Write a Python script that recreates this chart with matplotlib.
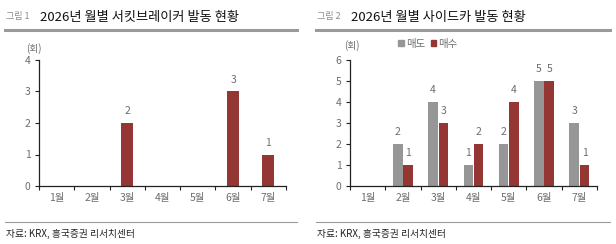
import numpy as np
import matplotlib
matplotlib.use('Agg')
import matplotlib.pyplot as plt
from matplotlib.lines import Line2D
from matplotlib.patches import Patch

# 한글 폰트 설정
plt.rcParams['font.family'] = ['Noto Sans CJK KR', 'DejaVu Sans']

# 데이터
months = ['1월', '2월', '3월', '4월', '5월', '6월', '7월']
circuit_breaker = [0, 0, 2, 0, 0, 3, 1]
sidecar_sell = [0, 2, 4, 1, 2, 5, 3]
sidecar_buy = [0, 1, 3, 2, 4, 5, 1]

RED = '#943634'
GRAY = '#969696'
TXT = '#6d6d6d'

W, H = 616, 244
fig = plt.figure(figsize=(W / 100, H / 100), dpi=100)


def fx(px):
    return px / W


def fy(py):
    return 1 - py / H


def style_axes(ax, ymax):
    ax.set_xlim(-0.5, len(months) - 0.5)
    ax.set_ylim(0, ymax)
    ax.set_yticks(range(ymax + 1))
    ax.set_xticks(range(len(months)))
    ax.set_xticklabels(months)
    ax.set_xticks(np.arange(-0.5, len(months)), minor=True)
    ax.tick_params(axis='x', which='major', length=0, pad=5, labelsize=7.5, labelcolor=TXT)
    ax.tick_params(axis='x', which='minor', length=3, width=0.8, direction='out', color='#222222')
    ax.tick_params(axis='y', length=3, width=0.8, direction='out', pad=3, labelsize=7.5,
                   labelcolor=TXT, color='#222222')
    for s in ['top', 'right']:
        ax.spines[s].set_visible(False)
    ax.spines['left'].set_color('#222222')
    ax.spines['bottom'].set_color('#222222')
    ax.spines['left'].set_linewidth(0.9)
    ax.spines['bottom'].set_linewidth(0.9)


def label_bars(ax, bars, vals):
    for b, v in zip(bars, vals):
        if v == 0:
            continue
        ax.annotate(str(v), (b.get_x() + b.get_width() / 2, v), xytext=(0, 5),
                    textcoords='offset points', ha='center', va='bottom',
                    fontsize=7.5, color=TXT)


def header(x0, x1, num, title):
    fig.text(fx(x0 + 1), fy(17), '그림 ' + str(num), fontsize=6.5, color='#8a8a8a', va='center')
    fig.text(fx(x0 + 35), fy(17), title, fontsize=9.5, color='#111111', va='center',
             fontweight='medium')
    fig.add_artist(Line2D([fx(x0), fx(x1)], [fy(30), fy(30)], color='#9a9a9a', lw=2.2))
    fig.add_artist(Line2D([fx(x0), fx(x1)], [fy(222), fy(222)], color='#9a9a9a', lw=0.8))
    fig.text(fx(x0 + 1), fy(234), '자료: KRX, 흥국증권 리서치센터', fontsize=7, color='#222222', va='center')


x = np.arange(len(months))

# 왼쪽: 서킷브레이커
ax1 = fig.add_axes([fx(39), fy(186), fx(247), 126 / H])
b1 = ax1.bar(x, circuit_breaker, width=0.34, color=RED)
style_axes(ax1, 4)
label_bars(ax1, b1, circuit_breaker)
fig.text(fx(34), fy(49), '(회)', fontsize=7, color=TXT, ha='center', va='center')
header(5, 297, 1, '2026년 월별 서킷브레이커 발동 현황')

# 오른쪽: 사이드카
ax2 = fig.add_axes([fx(350), fy(186), fx(247), 126 / H])
b2 = ax2.bar(x - 0.145, sidecar_sell, width=0.27, color=GRAY)
b3 = ax2.bar(x + 0.145, sidecar_buy, width=0.27, color=RED)
style_axes(ax2, 6)
label_bars(ax2, b2, sidecar_sell)
label_bars(ax2, b3, sidecar_buy)
fig.text(fx(352), fy(46), '(회)', fontsize=7, color=TXT, ha='center', va='center')
ax2.legend(handles=[Patch(color=GRAY, label='매도'), Patch(color=RED, label='매수')],
           loc='center left', bbox_to_anchor=(fx(389), fy(44)), bbox_transform=fig.transFigure,
           ncol=2, frameon=False, fontsize=7.5, handlelength=0.55, handleheight=0.55,
           handletextpad=0.2, columnspacing=0.5, labelcolor=TXT)
header(316, 610, 2, '2026년 월별 사이드카 발동 현황')

fig.savefig('out.png', dpi=100, facecolor='white')
